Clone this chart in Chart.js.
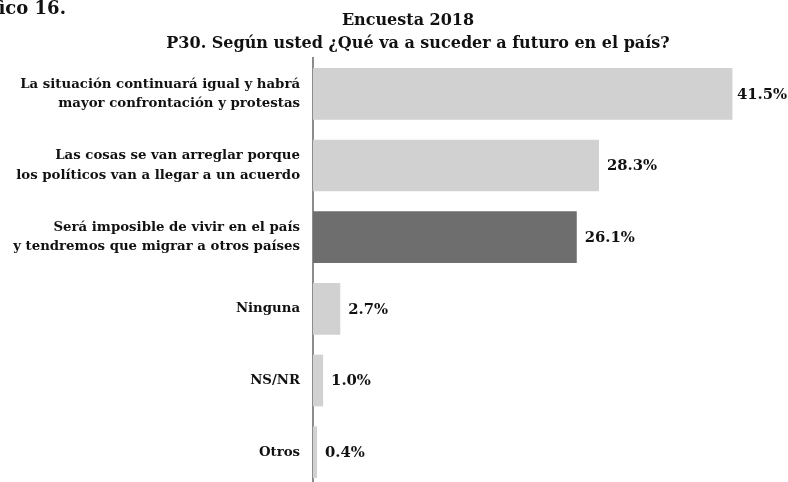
<!DOCTYPE html>
<html>
<head>
<meta charset="utf-8">
<script src="https://cdn.jsdelivr.net/npm/chart.js@4/dist/chart.umd.min.js"></script>
<style>
  html, body { margin: 0; padding: 0; background: #fff; overflow: hidden; }
  #wrap { width: 788px; height: 490px; position: relative; }
</style>
</head>
<body>
<div id="wrap"><canvas id="c" width="788" height="490"></canvas></div>
<script>
// Survey answers (percent of respondents)
const categories = [
  ['La situación continuará igual y habrá', 'mayor confrontación y protestas'],
  ['Las cosas se van arreglar porque', 'los políticos van a llegar a un acuerdo'],
  ['Será imposible de vivir en el país', 'y tendremos que migrar a otros países'],
  'Ninguna',
  'NS/NR',
  'Otros'
];
const values = [41.5, 28.3, 26.1, 2.7, 1.0, 0.4];
const valueLabels = ['41.5%', '28.3%', '26.1%', '2.7%', '1.0%', '0.4%'];
const highlighted = [false, false, true, false, false, false];

const figureLabel = 'Gráfico 16.';
const titleLines = ['Encuesta 2018', 'P30. Según usted ¿Qué va a suceder a futuro en el país?'];

const SERIF = '"DejaVu Serif", serif';
const LIGHT = '#d1d1d1';
const DARK = '#6e6e6e';

// Figure caption (runs off the left edge of the page) and two-line title
const headerPlugin = {
  id: 'header',
  afterDraw(chart) {
    const ctx = chart.ctx;
    ctx.save();
    ctx.fillStyle = '#111';
    ctx.textBaseline = 'alphabetic';
    ctx.textAlign = 'left';
    ctx.font = 'bold 18px ' + SERIF;
    const hidden = ctx.measureText('Gráf').width;
    ctx.fillText(figureLabel, -hidden, 14);
    ctx.font = 'bold 16px ' + SERIF;
    ctx.textAlign = 'center';
    ctx.fillText(titleLines[0], 408, 25);
    ctx.fillText(titleLines[1], 418, 48);
    ctx.restore();
  }
};

// Percentage text to the right of each bar, kept inside the canvas
const valueLabelPlugin = {
  id: 'valueLabels',
  afterDatasetsDraw(chart) {
    const ctx = chart.ctx;
    const meta = chart.getDatasetMeta(0);
    ctx.save();
    ctx.fillStyle = '#111';
    ctx.font = 'bold 14.8px ' + SERIF;
    ctx.textAlign = 'left';
    ctx.textBaseline = 'middle';
    meta.data.forEach((bar, i) => {
      const w = ctx.measureText(valueLabels[i]).width;
      const x = Math.min(bar.x + 8, chart.width - 1 - w);
      ctx.fillText(valueLabels[i], x, bar.y + 1);
    });
    ctx.restore();
  }
};

new Chart(document.getElementById('c'), {
  type: 'bar',
  data: {
    labels: categories,
    datasets: [{
      data: values,
      backgroundColor: highlighted.map(h => h ? DARK : LIGHT),
      borderWidth: 0,
      barPercentage: 0.72,
      categoryPercentage: 1.0
    }]
  },
  options: {
    indexAxis: 'y',
    responsive: false,
    animation: false,
    events: [],
    layout: { padding: { top: 58, right: 0, bottom: 2, left: 0 } },
    plugins: {
      legend: { display: false },
      title: { display: false },
      tooltip: { enabled: false }
    },
    scales: {
      x: {
        min: 0,
        max: 47,
        display: false
      },
      y: {
        grid: { display: false, drawTicks: false },
        border: { display: true, color: '#8c8c8c', width: 2 },
        ticks: {
          color: '#111',
          padding: 13,
          font: { family: SERIF, size: 13.3, weight: 'bold', lineHeight: 1.45 }
        },
        afterFit(scale) {
          scale.width = 313;
          scale.paddingTop = 0;
          scale.paddingBottom = 0;
        }
      }
    }
  },
  plugins: [headerPlugin, valueLabelPlugin]
});
</script>
</body>
</html>
